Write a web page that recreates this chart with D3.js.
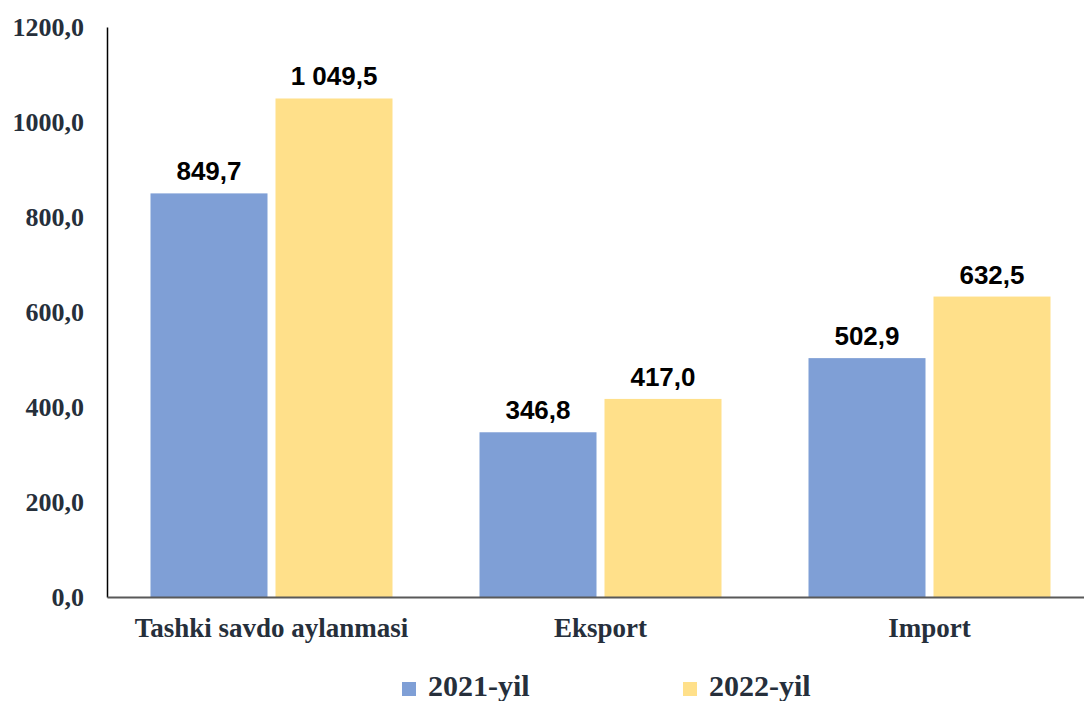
<!DOCTYPE html>
<html>
<head>
<meta charset="utf-8">
<script src="https://cdn.jsdelivr.net/npm/d3@7"></script>
<style>
  body { margin: 0; background: #fff; }
  svg { display: block; }
</style>
</head>
<body>
<div id="chart"></div>
<script>
var categories = ["Tashki savdo aylanmasi", "Eksport", "Import"];
var seriesNames = ["2021-yil", "2022-yil"];
var values2021 = [849.7, 346.8, 502.9];
var values2022 = [1049.5, 417.0, 632.5];
var valueLabels2021 = ["849,7", "346,8", "502,9"];
var valueLabels2022 = ["1 049,5", "417,0", "632,5"];
var yTicks = [0, 200, 400, 600, 800, 1000, 1200];

var colors = ["#7F9FD6", "#FFE08A"];
var width = 1084, height = 701;

var svg = d3.select("#chart").append("svg")
    .attr("width", width)
    .attr("height", height);

// scales
var x = d3.scaleBand()
    .domain(categories)
    .range([107, 1094])
    .paddingInner(0)
    .paddingOuter(0);

var y = d3.scaleLinear()
    .domain([0, 1200])
    .range([597, 27]);

var barW = 117, gap = 8;

var data = [];
categories.forEach(function (c, i) {
    data.push({ cat: c, s: 0, v: values2021[i], label: valueLabels2021[i] });
    data.push({ cat: c, s: 1, v: values2022[i], label: valueLabels2022[i] });
});

function barX(d) {
    return x(d.cat) + x.bandwidth() / 2 - (barW * 2 + gap) / 2 + d.s * (barW + gap);
}

// bars
svg.selectAll("rect.bar")
    .data(data)
    .enter()
    .append("rect")
    .attr("class", "bar")
    .attr("x", barX)
    .attr("y", function (d) { return y(d.v); })
    .attr("width", barW)
    .attr("height", function (d) { return y(0) - y(d.v); })
    .attr("fill", function (d) { return colors[d.s]; });

// value labels
svg.selectAll("text.val")
    .data(data)
    .enter()
    .append("text")
    .attr("class", "val")
    .attr("x", function (d) { return barX(d) + barW / 2; })
    .attr("y", function (d) { return y(d.v) - 13; })
    .attr("text-anchor", "middle")
    .style("font-family", "'Liberation Sans', Arial, sans-serif")
    .style("font-weight", "bold")
    .style("font-size", "26px")
    .style("fill", "#000")
    .text(function (d) { return d.label; });

// y axis
var yAxis = svg.append("g")
    .attr("transform", "translate(107,0)")
    .call(d3.axisLeft(y).tickValues(yTicks).tickSize(0).tickPadding(23)
        .tickFormat(function (d) { return d3.format(".1f")(d).replace(".", ","); }));
yAxis.select(".domain").attr("stroke", "#000").attr("stroke-width", 1.5);
yAxis.selectAll("text")
    .style("font-family", "'Liberation Serif', 'Times New Roman', serif")
    .style("font-weight", "bold")
    .style("font-size", "26px")
    .style("fill", "#262F3B");

// x axis
var xAxis = svg.append("g")
    .attr("transform", "translate(0,597)")
    .call(d3.axisBottom(x).tickSize(0).tickPadding(21).tickSizeOuter(0));
xAxis.select(".domain").attr("stroke", "#595959").attr("stroke-width", 2);
xAxis.selectAll("text")
    .style("font-family", "'Liberation Serif', 'Times New Roman', serif")
    .style("font-weight", "bold")
    .style("font-size", "27px")
    .style("fill", "#262F3B");

// legend
var legendX = [402, 683];
var legend = svg.selectAll("g.legend")
    .data(seriesNames)
    .enter()
    .append("g")
    .attr("class", "legend")
    .attr("transform", function (d, i) { return "translate(" + legendX[i] + ",682)"; });
legend.append("rect")
    .attr("width", 14)
    .attr("height", 14)
    .attr("fill", function (d, i) { return colors[i]; });
legend.append("text")
    .attr("x", 26)
    .attr("y", 14)
    .style("font-family", "'Liberation Serif', 'Times New Roman', serif")
    .style("font-weight", "bold")
    .style("font-size", "30px")
    .style("fill", "#262F3B")
    .text(function (d) { return d; });
</script>
</body>
</html>
